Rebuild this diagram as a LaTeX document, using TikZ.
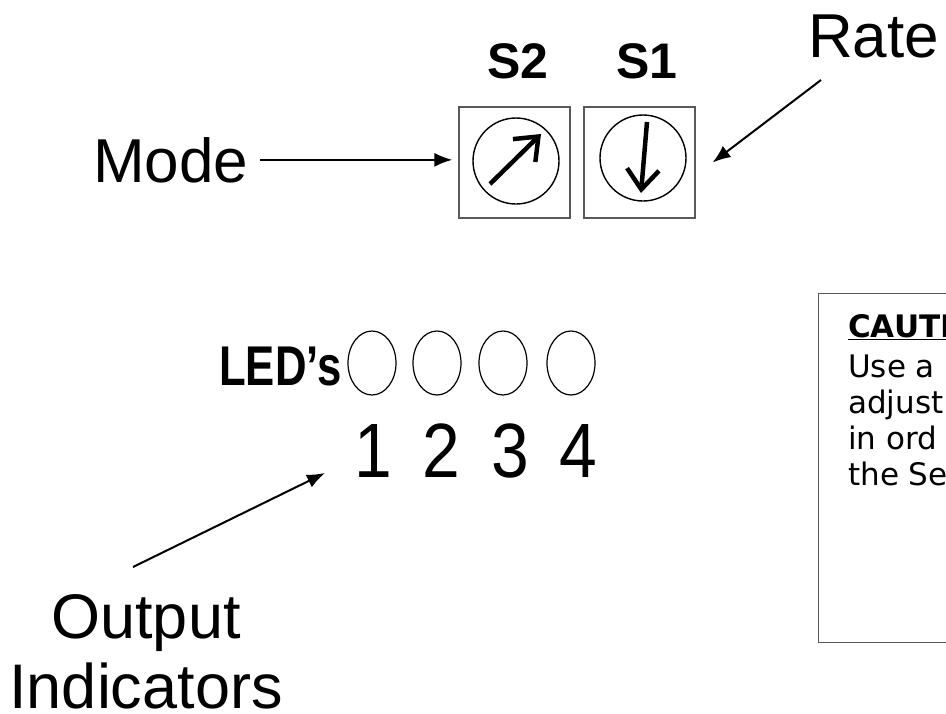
\documentclass[tikz,border=0pt]{standalone}
\usepackage{fontspec}
\setmainfont{Liberation Sans}
\newfontfamily\cautionfont{DejaVu Sans}
\usetikzlibrary{arrows.meta,shapes.geometric}

\tikzset{
  lbl/.style={inner sep=0pt, font=\fontsize{62}{70}\selectfont},
  dialbox/.style={draw=black!65, line width=1.2pt, minimum size=111pt, inner sep=0pt},
  dial/.style={circle, draw, line width=1.4pt, minimum size=86pt, inner sep=0pt},
  needle/.style={line width=4.5pt, -{Straight Barb[length=20pt,width=32pt]}},
  pointer/.style={line width=2pt, -{Latex[length=18pt,width=14pt]}},
  led/.style={ellipse, draw, line width=1.2pt, minimum width=48pt, minimum height=64pt, inner sep=0pt},
}

\begin{document}
\begin{tikzpicture}[x=1pt,y=-1pt]
\useasboundingbox (0,0) rectangle (946,713); \clip (0,0) rectangle (946,713);
% rotary switches
\node[dialbox] (s2) at (514.5,162.5) {}; \node[dialbox] (s1) at (639.5,162.5) {};
\node[dial] (c2) at (516,161) {}; \node[dial] (c1) at (643,158) {};
\draw[needle] ([shift={(-26,23)}]c2.center) -- ([shift={(25,-27)}]c2.center);
\draw[needle] ([shift={(4,-36)}]c1.center) -- ([shift={(-2,35)}]c1.center);
\node[anchor=base, inner sep=0pt, font=\bfseries\fontsize{50}{50}\selectfont] (s2lbl) at (518,78) {S2};
\node[anchor=base, inner sep=0pt, font=\bfseries\fontsize{50}{50}\selectfont] (s1lbl) at (647,78) {S1};
% labels with pointers
\node[lbl, anchor=base west] (mode) at (93,182) {Mode};
\draw[pointer, shorten <=12pt, shorten >=6pt] (mode.east) -- (mode.east -| s2.west);
\node[lbl, anchor=base west] (rate) at (808,57) {Rate};
\coordinate (ratetail) at (821,80);
\draw[pointer] (ratetail) -- ([xshift=17pt]s1.east);
% LEDs
\node[anchor=base west, inner sep=0pt, font=\bfseries\fontsize{56}{56}\selectfont] (ledlbl) at (219,385) {\scalebox{.78}[1]{LED’s}};
\foreach \x [count=\n] in {372,437,503,571} \node[led] (led\n) at (\x,363) {};
\foreach \x [count=\n] in {373,441,510,578}
  \node[anchor=base, inner sep=0pt, font=\fontsize{77}{77}\selectfont] (num\n) at (\x,477) {\scalebox{.88}[1]{\n}};
\node[anchor=base, inner sep=0pt, align=center, font=\fontsize{63}{70}\selectfont] (outlbl) at (146,708) {Output\\Indicators};
\coordinate (outtail) at (133,567); \coordinate (outtip) at (325,473);
\draw[pointer] (outtail) -- (outtip);
% caution note
\node[draw=black!65, line width=1.2pt, anchor=north west, minimum width=160pt, minimum height=349pt, inner sep=0pt] (cbox) at (818,293) {};
\node[anchor=base west, inner sep=0pt, align=left, font=\cautionfont\fontsize{31}{36}\selectfont] (ctext) at (848,485)
  {\textbf{\underline{CAUTION}}\\[4pt] Use a\\ adjust\\ in ord\\ the Se};
\end{tikzpicture}
\end{document}
